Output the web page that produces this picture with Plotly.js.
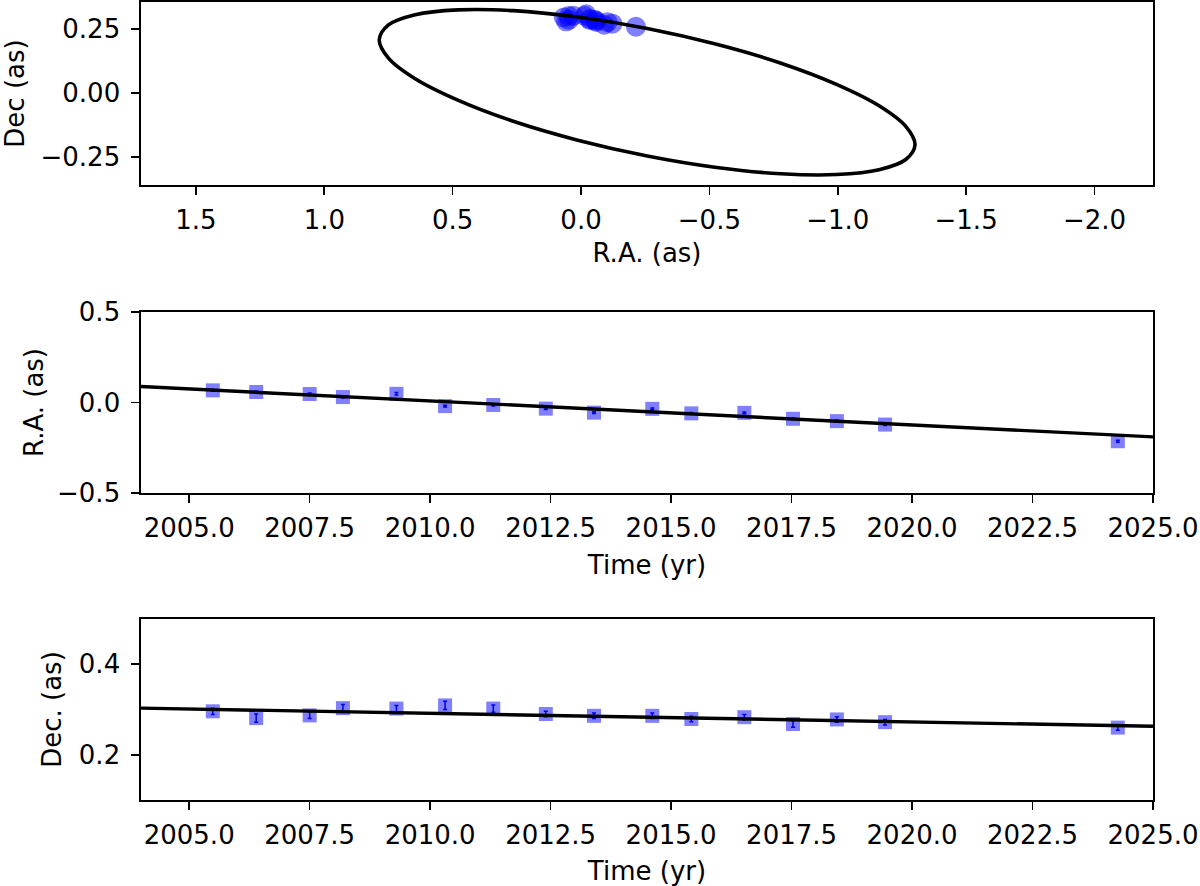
<!DOCTYPE html>
<html>
<head>
<meta charset="utf-8">
<script src="https://cdn.plot.ly/plotly-3.0.1.min.js"></script>
<style>html,body{margin:0;padding:0;background:#fff;}#chart{width:1200px;height:886px;}</style>
</head>
<body>
<div id="chart"></div>
<script>
// Observation epochs (yr)
const epochs = [2005.49, 2006.39, 2007.50, 2008.19, 2009.30, 2010.31, 2011.31, 2012.40, 2013.40, 2014.61, 2015.42, 2016.52, 2017.53, 2018.44, 2019.44, 2024.27];
// R.A. offsets (as)
const raObs = [0.067, 0.058, 0.047, 0.030, 0.048, -0.020, -0.014, -0.034, -0.056, -0.035, -0.060, -0.057, -0.090, -0.103, -0.122, -0.214];
const raErr = [0.005, 0.005, 0.005, 0.005, 0.007, 0.005, 0.005, 0.005, 0.005, 0.005, 0.005, 0.005, 0.005, 0.005, 0.005, 0.005];
// Dec offsets (as)
const decObs = [0.296, 0.281, 0.287, 0.303, 0.302, 0.309, 0.302, 0.290, 0.286, 0.286, 0.279, 0.283, 0.268, 0.278, 0.272, 0.260];
const decErr = [0.007, 0.009, 0.007, 0.008, 0.007, 0.009, 0.008, 0.006, 0.006, 0.006, 0.006, 0.006, 0.007, 0.006, 0.006, 0.006];

// Model orbit (ellipse)
const orbitRA  = [0.786, 0.750, 0.646, 0.480, 0.264, 0.013, -0.258, -0.528, -0.779, -0.995, -1.161, -1.265, -1.301, -1.265, -1.161, -0.995, -0.779, -0.528, -0.258, 0.013, 0.264, 0.480, 0.646, 0.750, 0.786];
const orbitDec = [0.209, 0.267, 0.307, 0.326, 0.323, 0.298, 0.253, 0.191, 0.117, 0.034, -0.050, -0.131, -0.203, -0.261, -0.301, -0.320, -0.317, -0.292, -0.247, -0.185, -0.111, -0.028, 0.056, 0.137, 0.209];

// Model tracks vs time
const modelTime = [2004.0, 2025.0];
const modelRA = [0.088, -0.190];
const modelDec = [0.303, 0.263];

const timeTicks = [2005.0, 2007.5, 2010.0, 2012.5, 2015.0, 2017.5, 2020.0, 2022.5, 2025.0];

const FONT = 'DejaVu Sans, sans-serif';
const FS = 26;
const ptColor = 'rgba(0,0,255,0.5)';

const traces = [
  {x: raObs, y: decObs, type: 'scatter', mode: 'markers', xaxis: 'x', yaxis: 'y',
   marker: {symbol: 'circle', size: 20, color: ptColor}, hoverinfo: 'skip'},
  {x: orbitRA, y: orbitDec, type: 'scatter', mode: 'lines', xaxis: 'x', yaxis: 'y',
   line: {color: 'black', width: 3.6, shape: 'spline', smoothing: 1}},
  {x: epochs, y: raObs, type: 'scatter', mode: 'markers', xaxis: 'x2', yaxis: 'y2',
   marker: {symbol: 'square', size: 14, color: ptColor},
   error_y: {type: 'data', array: raErr, visible: true, color: 'rgb(0,0,200)', thickness: 1.5, width: 2}},
  {x: modelTime, y: modelRA, type: 'scatter', mode: 'lines', xaxis: 'x2', yaxis: 'y2',
   line: {color: 'black', width: 3.4}},
  {x: epochs, y: decObs, type: 'scatter', mode: 'markers', xaxis: 'x3', yaxis: 'y3',
   marker: {symbol: 'square', size: 14, color: ptColor},
   error_y: {type: 'data', array: decErr, visible: true, color: 'rgb(0,0,200)', thickness: 1.5, width: 2}},
  {x: modelTime, y: modelDec, type: 'scatter', mode: 'lines', xaxis: 'x3', yaxis: 'y3',
   line: {color: 'black', width: 3.4}}
];

function ax(extra) {
  return Object.assign({
    showline: true, mirror: true, linecolor: 'black', linewidth: 1.6,
    ticks: 'outside', ticklen: 8, tickwidth: 1.6, tickcolor: 'black',
    showgrid: false, zeroline: false,
    tickfont: {family: FONT, size: FS, color: 'black'}
  }, extra);
}
const xdom = [141/1200, 1153/1200];
const layout = {
  width: 1200, height: 886,
  margin: {l: 0, r: 0, t: 0, b: 0},
  paper_bgcolor: 'white', plot_bgcolor: 'white',
  showlegend: false,
  font: {family: FONT, size: FS, color: 'black'},
  xaxis: ax({domain: xdom, anchor: 'y', range: [1.714, -2.228], tickvals: [1.5, 1.0, 0.5, 0.0, -0.5, -1.0, -1.5, -2.0], tickformat: '.1f', ticklabelstandoff: 3,
    title: {text: 'R.A. (as)', font: {family: FONT, size: FS}, standoff: 10}}),
  yaxis: ax({domain: [1-185/886, 1-2/886], anchor: 'x', range: [-0.361, 0.357], tickvals: [-0.25, 0, 0.25], tickformat: '.2f', ticklabelstandoff: 6,
    title: {text: 'Dec (as)', font: {family: FONT, size: FS}, standoff: 10}}),
  xaxis2: ax({domain: xdom, anchor: 'y2', range: [2004, 2025], tickvals: timeTicks, tickformat: '.1f', ticklabelstandoff: 3,
    title: {text: 'Time (yr)', font: {family: FONT, size: FS}, standoff: 14}}),
  yaxis2: ax({domain: [1-493/886, 1-312/886], anchor: 'x2', range: [-0.5, 0.5], tickvals: [-0.5, 0, 0.5], tickformat: '.1f', ticklabelstandoff: 6,
    title: {text: 'R.A. (as)', font: {family: FONT, size: FS}, standoff: 6}}),
  xaxis3: ax({domain: xdom, anchor: 'y3', range: [2004, 2025], tickvals: timeTicks, tickformat: '.1f', ticklabelstandoff: 3,
    title: {text: 'Time (yr)', font: {family: FONT, size: FS}, standoff: 14}}),
  yaxis3: ax({domain: [1-800/886, 1-619/886], anchor: 'x3', range: [0.1, 0.5], tickvals: [0.2, 0.4], tickformat: '.1f', ticklabelstandoff: 6,
    title: {text: 'Dec. (as)', font: {family: FONT, size: FS}, standoff: 10}})
};
Plotly.newPlot('chart', traces, layout, {staticPlot: true, displayModeBar: false});
</script>
</body>
</html>
